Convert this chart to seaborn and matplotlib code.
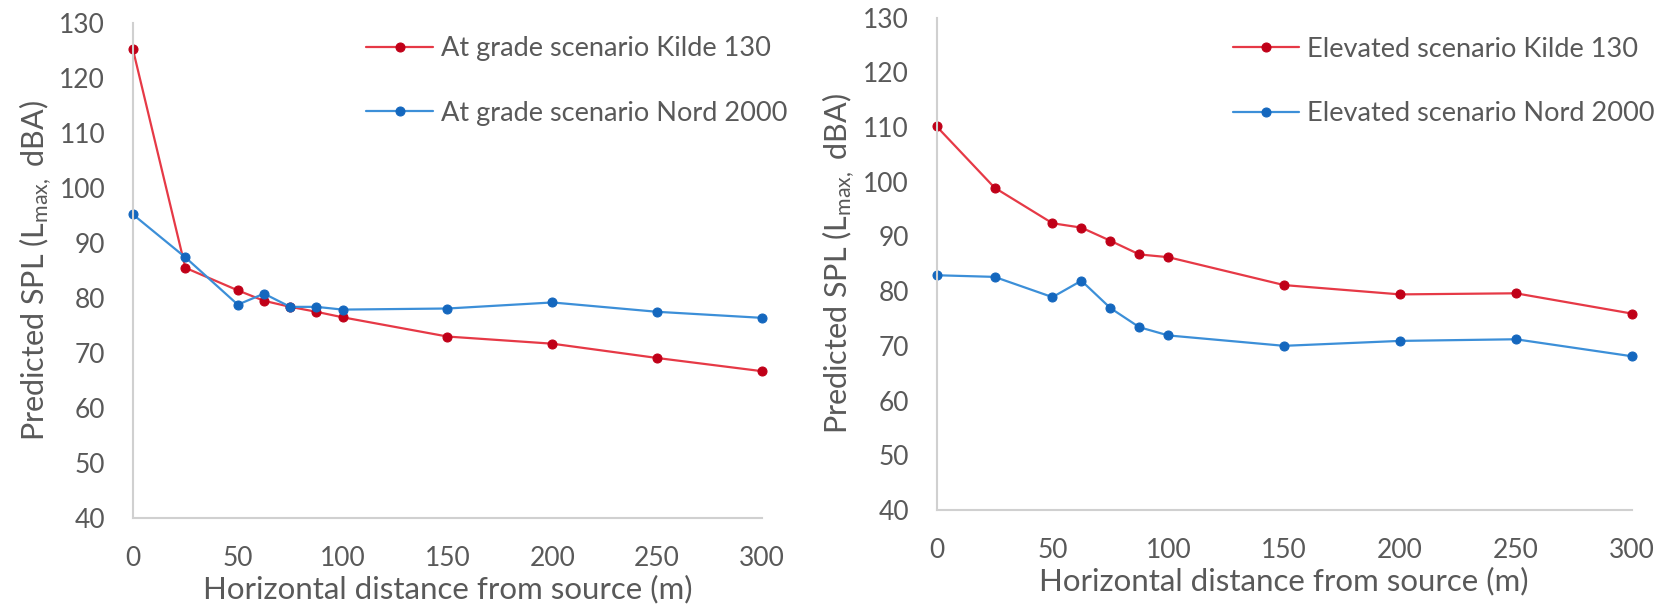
import matplotlib
matplotlib.use("Agg")
import matplotlib.pyplot as plt
import seaborn as sns
import pandas as pd

distance = [0, 25, 50, 62.5, 75, 87.5, 100, 150, 200, 250, 300]
grade_kilde = [125.2, 85.5, 81.4, 79.5, 78.4, 77.5, 76.5, 73.0, 71.7, 69.1, 66.7]
grade_nord = [95.2, 87.4, 78.8, 80.8, 78.4, 78.4, 77.9, 78.1, 79.2, 77.5, 76.4]
elev_kilde = [110.1, 98.9, 92.4, 91.6, 89.2, 86.7, 86.2, 81.1, 79.4, 79.6, 75.9]
elev_nord = [82.9, 82.6, 78.9, 81.9, 76.9, 73.4, 71.9, 70.0, 70.9, 71.2, 68.1]
x_ticks = [0, 50, 100, 150, 200, 250, 300]
y_ticks = [40, 50, 60, 70, 80, 90, 100, 110, 120, 130]

sns.set_theme(style="white")
plt.rcParams['font.family'] = ['Lato', 'DejaVu Sans']
plt.rcParams['mathtext.fontset'] = 'custom'
plt.rcParams['mathtext.rm'] = 'Lato'
plt.rcParams['mathtext.it'] = 'Lato'

RED_LINE, RED_MK = "#E63946", "#C00018"
BLUE_LINE, BLUE_MK = "#3C8FD8", "#1467BE"
TXT = "#595959"

fig = plt.figure(figsize=(16.66, 6.08), dpi=100)
ax1 = fig.add_axes([0.0798, 0.148, 0.3776, 0.814])
ax2 = fig.add_axes([0.5622, 0.1612, 0.4172, 0.810])

panels = [
    (ax1, grade_kilde, grade_nord, "At grade scenario Kilde 130", "At grade scenario Nord 2000", (1.040, 0.973)),
    (ax2, elev_kilde, elev_nord, "Elevated scenario Kilde 130", "Elevated scenario Nord 2000", (1.033, 0.961)),
]

for ax, kilde, nord, lab_k, lab_n, anchor in panels:
    df = pd.DataFrame({"x": distance, "k": kilde, "n": nord})
    sns.lineplot(data=df, x="x", y="k", ax=ax, color=RED_LINE, lw=1.6,
                 marker="o", markersize=6.5, markerfacecolor=RED_MK,
                 markeredgecolor=RED_MK, label=lab_k, clip_on=False)
    sns.lineplot(data=df, x="x", y="n", ax=ax, color=BLUE_LINE, lw=1.6,
                 marker="o", markersize=6.5, markerfacecolor=BLUE_MK,
                 markeredgecolor=BLUE_MK, label=lab_n, clip_on=False)
    ax.set_xlim(0, 300)
    ax.set_ylim(40, 130)
    ax.set_xticks(x_ticks)
    ax.set_yticks(y_ticks)
    ax.tick_params(axis="both", labelsize=19, colors=TXT, length=0)
    ax.tick_params(axis="x", pad=20)
    ax.tick_params(axis="y", pad=20)
    for s in ["top", "right"]:
        ax.spines[s].set_visible(False)
    for s in ["left", "bottom"]:
        ax.spines[s].set_color("#D0D0D0")
        ax.spines[s].set_linewidth(1.5)
    ax.set_xlabel("Horizontal distance from source (m)", fontsize=22.5, color=TXT, labelpad=3)
    ax.set_ylabel("Predicted SPL (L$_{\\mathrm{max,}}$ dBA)", fontsize=22, color=TXT, labelpad=4)
    leg = ax.legend(loc="upper right", frameon=False, fontsize=19.5, handlelength=2.45,
                    handletextpad=0.3, labelspacing=1.45, borderpad=0, borderaxespad=0,
                    bbox_to_anchor=anchor)
    for t in leg.get_texts():
        t.set_color(TXT)

fig.savefig("out.png", dpi=100, facecolor="white")
